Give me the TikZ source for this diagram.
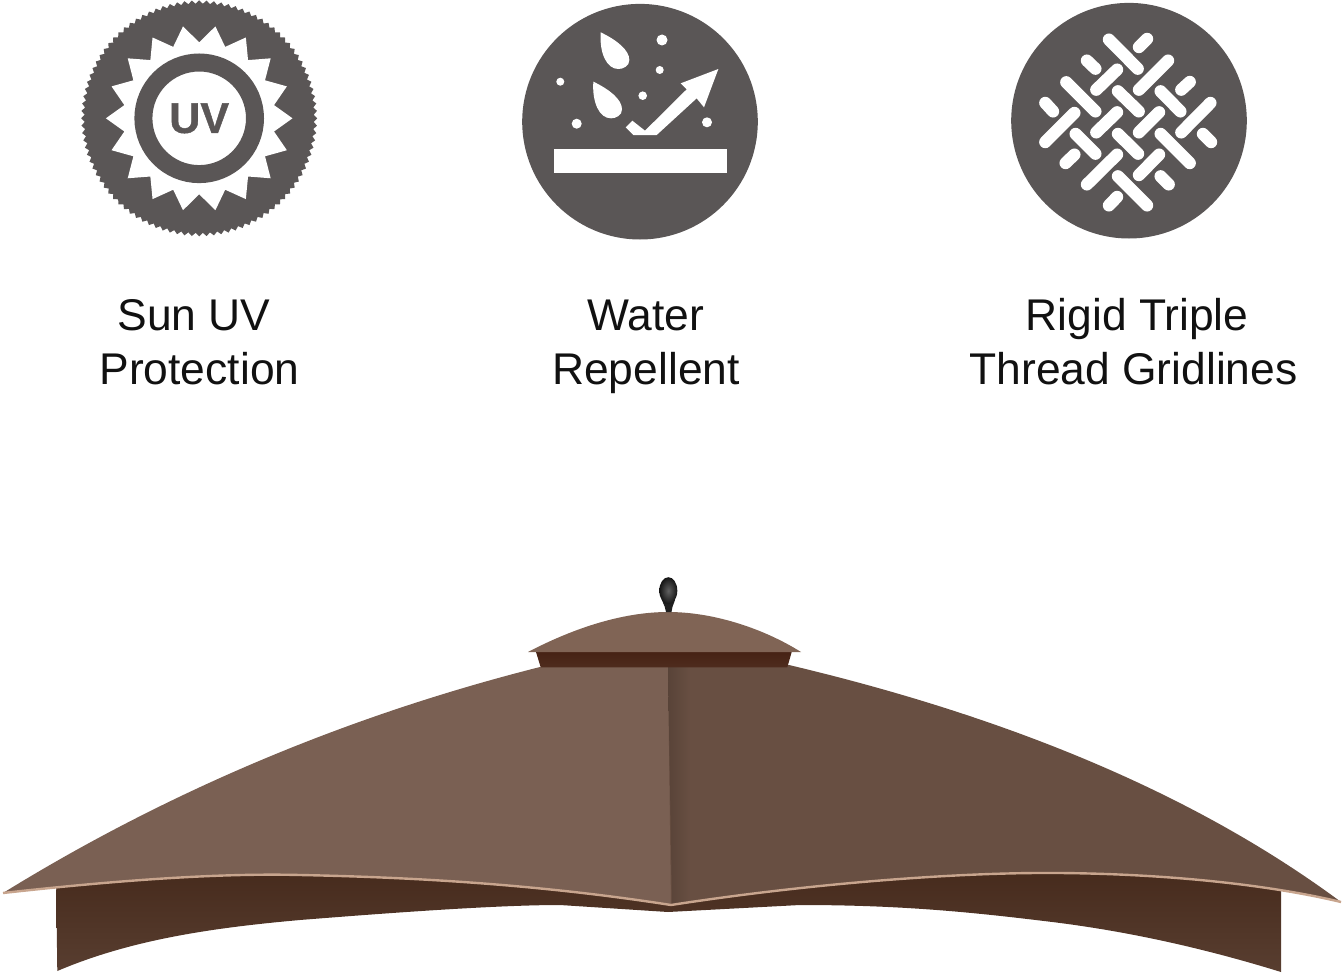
\documentclass[tikz,border=0pt]{standalone}
\usepackage{fontspec}
\setmainfont{Liberation Sans}
\usepackage{xcolor}
\definecolor{Col1}{RGB}{90,86,86}
\definecolor{Col2}{RGB}{17,17,17}
\definecolor{Col3}{RGB}{122,96,83}
\definecolor{Col4}{RGB}{104,79,66}
\definecolor{Col5}{RGB}{74,45,30}
\definecolor{Col6}{RGB}{200,165,142}
\definecolor{Col7}{RGB}{128,100,85}
\definecolor{Col8}{RGB}{70,34,20}
\usetikzlibrary{shapes.geometric}
\tikzstyle{NodeLabel}=[anchor=base,inner sep=0pt,text=Col2,font=\fontsize{22.2}{26}\selectfont]
\tikzstyle{Disc}=[circle,fill=Col1,inner sep=0pt,outer sep=0pt,minimum size=117.8pt]
\tikzstyle{Teeth}=[star,star points=100,star point ratio=1.03,fill=Col1,
inner sep=0pt,outer sep=0pt,minimum size=118pt]
\tikzstyle{Sun}=[star,star points=18,star point ratio=1.228,fill=white,
shape border rotate=10,inner sep=0pt,outer sep=0pt,minimum size=93.3pt]
\tikzstyle{Ring}=[circle,draw=Col1,line width=9pt,fill=white,inner sep=0pt,outer sep=0pt,
minimum size=55.8pt,text=Col1,font=\fontsize{21.5}{24}\selectfont\bfseries\addfontfeature{FakeBold=1}]
\tikzstyle{Thread}=[draw=white,line width=6.1pt,line cap=round,shorten >=-.3pt,shorten <=-.3pt]
\tikzstyle{Speck}=[circle,fill=white,inner sep=0pt,outer sep=0pt]
\begin{document}
\begin{tikzpicture}[x=.5pt,y=-.5pt]
    \useasboundingbox(0,0)rectangle(1344,974);
    % first icon
    \node[Teeth](teeth)at(199.2,118.3){};
    \node[Sun](sun)at(199.2,118.3){};
    \node[Ring](uv)at(199.2,118.3){\raisebox{-.6pt}{UV}};
    % second icon
    \node[Disc](water)at(640,121.7){};
    \fill[white](554,149.3)rectangle(727.3,172.7);
    \begin{scope}[shift={(510,0)},x=.16667pt,y=-.16667pt]
        \fill[white](272,97)..controls(320,120)and(358,150)..(358,180)
            ..controls(358,198)and(340,207)..(325,207)
            ..controls(290,207)and(268,160)..cycle;
        \fill[white](250,245)..controls(298,268)and(336,298)..(336,328)
            ..controls(336,346)and(318,355)..(303,355)
            ..controls(268,355)and(246,308)..cycle;
        \fill[white](347,382)--(367,362)--(405,392)--(530,268)--(512,250)
            --(625,207)--(582,322)--(560,295)--(440,405)--(370,405)--cycle;
    \end{scope}
    \node[Speck,minimum size=5.5pt](s1)at(662,40){};
    \node[Speck,minimum size=4pt](s2)at(659.7,70){};
    \node[Speck,minimum size=4pt](s3)at(560.3,81.7){};
    \node[Speck,minimum size=4.3pt](s4)at(642.7,95.7){};
    \node[Speck,minimum size=5pt](s5)at(576.7,123.7){};
    \node[Speck,minimum size=5pt](s6)at(707,122.3){};
    % third icon
    \node[Disc](weave)at(1129,120.7){};
    \begin{scope}[shift={(1000,0)},x=.16667pt,y=-.16667pt]
        \draw[Thread](328,120)--(412,205);
        \draw[Thread](262,183)--(285,205);
        \draw[Thread](200,248)--(285,333);
        \draw[Thread](355,275)--(415,333);
        \draw[Thread](483,275)--(540,333);
        \draw[Thread](137,310)--(158,333);
        \draw[Thread](228,403)--(285,460);
        \draw[Thread](355,403)--(413,460);
        \draw[Thread](483,403)--(568,488);
        \draw[Thread](610,403)--(632,425);
        \draw[Thread](355,530)--(440,615);
        \draw[Thread](483,530)--(505,552);
        \draw[Thread](418,140)--(440,118);
        \draw[Thread](290,268)--(350,210);
        \draw[Thread](418,268)--(503,183);
        \draw[Thread](545,268)--(568,247);
        \draw[Thread](137,425)--(222,340);
        \draw[Thread](290,396)--(350,338);
        \draw[Thread](418,396)--(476,338);
        \draw[Thread](545,396)--(630,310);
        \draw[Thread](198,488)--(222,465);
        \draw[Thread](262,552)--(350,465);
        \draw[Thread](418,524)--(476,465);
        \draw[Thread](328,615)--(350,592);
    \end{scope}
    % labels
    \node[NodeLabel](sunuv)at(194,330){Sun UV};
    \node[NodeLabel](protection)at(199.5,384){Protection};
    \node[NodeLabel](wtr)at(646,330){Water};
    \node[NodeLabel](repellent)at(646,384){Repellent};
    \node[NodeLabel](rigid)at(1137,330){Rigid Triple};
    \node[NodeLabel](thread)at(1133.5,384){Thread Gridlines};
    % canopy
    \shade[top color=Col5!95!black,bottom color=Col5!92!white](56,870)--(57.3,971)
        ..controls(130,940)and(210,928)..(300,920)
        ..controls(400,912)and(500,905)..(560,905)
        --(668,912)--(800,905)
        ..controls(900,905)and(970,912)..(1044,921)
        ..controls(1130,931)and(1210,950)..(1281,972)--(1281,870)--cycle;
    \fill[Col3](3,893)..controls(170,790)and(350,715)..(540,667)--(670,667)--(671,905)
        ..controls(530,883)and(400,877)..(300,875)
        ..controls(220,873)and(120,880)..cycle;
    \fill[Col4](668,667)--(789,665)..controls(1000,715)and(1190,790)..(1341,902)
        ..controls(1270,885)and(1170,874)..(1060,873)
        ..controls(950,872)and(800,885)..(671,905)--cycle;
    \shade[left color=Col4!85!black,right color=Col4](668,667)--(690,667)--(690,902)--(672,905)--cycle;
    \draw[Col6,line width=1.2pt](3,893)..controls(120,880)and(220,873)..(300,875)
        ..controls(400,877)and(530,883)..(671,905)
        ..controls(800,885)and(950,872)..(1060,873)
        ..controls(1170,874)and(1270,885)..(1341,902);
    % cap
    \shade[top color=Col8,bottom color=Col8!85!Col7](536,652)--(540.7,667.3)--(787.3,667.3)--(791.7,652)--cycle;
    \fill[Col7](528,652)..controls(570,630)and(620,612)..(668,612)
        ..controls(716,612)and(766,630)..(801,652)--cycle;
    \fill[black!88](662,600)..controls(664,606)and(666,608)..(666,612)--(671.5,612)
        ..controls(671.5,608)and(673,606)..(675,600)--cycle;
    \shade[inner color=black!62,outer color=black!92](668.3,590.7)ellipse(9 and 13.5);
\end{tikzpicture}
\end{document}
